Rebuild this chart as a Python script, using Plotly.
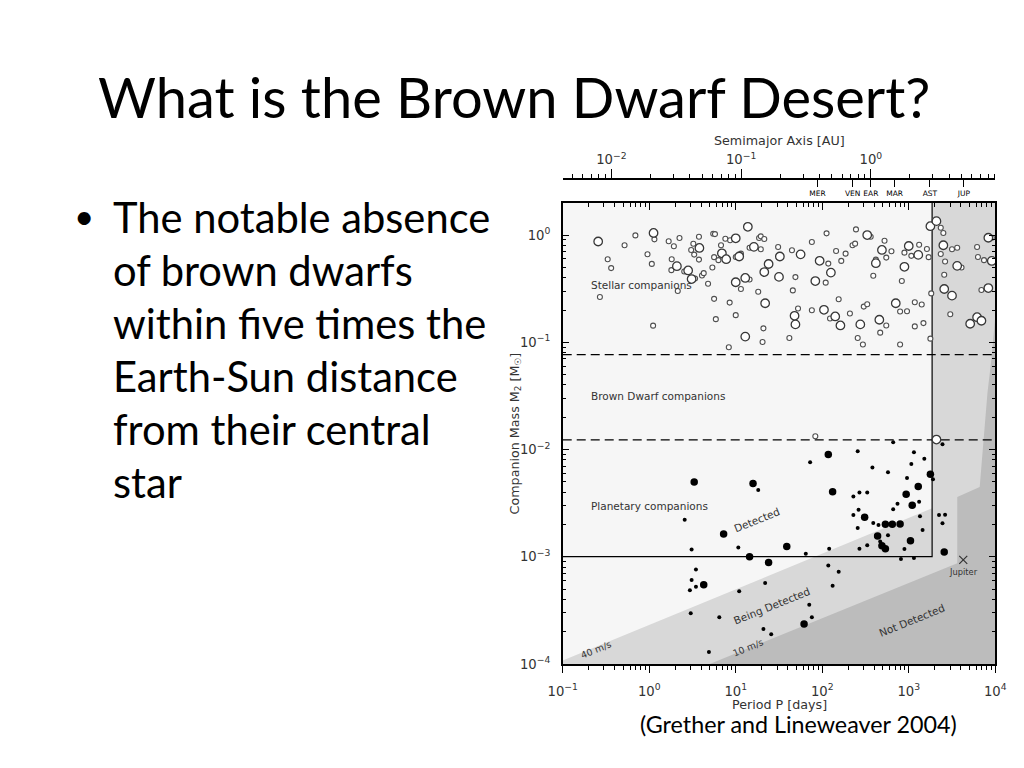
import math
import plotly.graph_objects as go

# page is 1024x768; the figure sits inside the default 8px body margin
FIG_W, FIG_H, OFF = 1008, 752, 8
def px(x):
    return (x - OFF) / FIG_W
def py(y):
    return 1 - (y - OFF) / FIG_H

# ---------------- data: log10 period [days], log10 companion mass [Msun] ----------------
stellar_big_logP = [-0.59, 0.05, 0.32, 0.45, 0.49, 0.58, 0.84, 0.89, 1.00, 1.04, 1.00, 1.11, 1.14,
                    1.21, 1.11, 1.33, 1.38, 1.34, 1.51, 1.50, 1.75, 1.97, 2.10, 2.52, 2.69, 2.62,
                    3.00, 3.11, 2.95, 1.92, 1.68, 1.69, 2.02, 2.15, 2.21, 2.44, 2.66, 2.85, 3.25,
                    3.32, 3.40, 3.56, 3.41, 3.50, 3.92, 3.96, 3.92, 3.71, 3.79, 3.84, 3.32]
stellar_big_logM = [-0.06, 0.02, -0.29, -0.33, -0.41, -0.12, -0.17, -0.225, -0.03, -0.20, -0.44, -0.40, 0.077,
                    -0.11, -0.947, -0.345, -0.27, -0.636, -0.20, -0.39, -0.18, -0.24, -0.35, 0.0, -0.139, -0.262,
                    -0.102, -0.185, -0.296, -0.429, -0.753, -0.833, -0.697, -0.759, -0.843, -0.833, -0.79, -0.636, 0.083,
                    0.13, -0.095, -0.287, -0.503, -0.565, -0.025, -0.241, -0.494, -0.827, -0.766, -0.799, -1.907]

stellar_small_logP = [-0.48, -0.44, -0.57, -0.285, -0.16, -0.02, 0.03, 0.06, 0.045, 0.225, 0.285, 0.35,
                      0.26, 0.256, 0.33, 0.405, 0.53, 0.485, 0.51, 0.52, 0.575, 0.575, 0.61, 0.63,
                      0.68, 0.73, 0.74, 0.76, 0.75, 0.77, 0.75, 0.80, 0.83, 0.88, 0.935, 0.93,
                      0.92, 1.00, 1.06, 0.99, 1.06, 1.16, 1.00, 1.16, 1.26, 1.27, 1.29, 1.33,
                      1.29, 1.32, 1.31, 1.49, 1.62, 1.65, 1.88, 2.05, 2.07, 2.16, 2.22, 2.27,
                      2.35, 2.38, 2.39, 2.56, 2.72, 2.80, 2.62, 2.74, 2.95, 3.03, 3.12, 3.21,
                      3.23, 2.92, 2.59, 1.69, 1.66, 2.04, 2.19, 1.72, 1.88, 2.09, 2.32, 2.48,
                      2.52, 2.41, 2.47, 2.74, 2.67, 2.90, 2.98, 3.07, 3.15, 3.07, 3.17, 2.90,
                      3.37, 3.40, 3.26, 3.25, 3.50, 3.56, 3.42, 3.37, 3.61, 3.41, 3.48, 3.79,
                      3.80, 3.87, 3.96, 3.84, 1.92]
stellar_small_logM = [-0.225, -0.308, -0.577, -0.095, -0.003, -0.179, -0.269, -0.04, -0.845, -0.058, -0.105, -0.028,
                      -0.225, -0.327, -0.521, -0.34, -0.405, -0.139, -0.081, -0.182, -0.229, -0.016, -0.377, -0.355,
                      -0.454, -0.303, 0.012, 0.009, -0.595, -0.784, -0.206, -0.234, -0.095, -0.034, -0.049, -0.63,
                      -1.046, -0.204, -0.173, -0.451, -0.503, -0.414, -0.747, -0.118, -0.528, -0.028, -0.012, -0.037,
                      -0.132, -0.87, -0.997, -0.111, -0.96, -0.142, -0.065, 0.016, -0.266, -0.148, -0.241, -0.173,
                      -0.095, -0.08, 0.053, -0.016, -0.053, -0.151, -0.229, -0.21, -0.164, -0.194, -0.09, -0.13,
                      -0.206, -0.429, -0.38, -0.392, -0.516, -0.444, -0.599, -0.685, -0.701, -0.778, -0.731, -0.667,
                      -0.645, -0.96, -1.021, -0.843, -0.91, -0.713, -0.71, -0.627, -0.648, -0.852, -0.821, -1.021,
                      0.068, 0.019, -0.544, -0.966, -0.132, -0.118, -0.247, -0.176, -0.303, -0.37, -0.738, -0.111,
                      -0.204, -0.234, -0.025, -0.512, -1.877]

planet_big_logP = [0.52, 1.20, 0.86, 1.16, 1.59, 1.38, 2.07, 2.12, 3.25, 3.11, 2.97, 3.04, 2.49,
                   2.73, 2.81, 2.90, 2.64, 2.69, 2.73, 3.02, 3.41, 0.63, 1.79]
planet_big_logM = [-2.303, -2.318, -2.787, -3.0, -2.905, -3.053, -2.046, -2.395, -2.231, -2.345, -2.417, -2.519, -2.632,
                   -2.697, -2.697, -2.694, -2.806, -2.898, -2.926, -2.852, -2.956, -3.262, -3.627]

planet_small_logP = [1.26, 0.41, 0.49, 1.03, 1.86, 2.41, 2.82, 2.58, 2.76, 3.06, 3.18, 3.03, 3.39,
                     2.36, 2.43, 2.52, 2.98, 3.28, 3.12, 2.87, 2.82, 2.36, 2.42, 2.41, 2.59, 2.65,
                     3.13, 3.16, 2.76, 2.67, 2.52, 2.43, 2.08, 1.81, 2.95, 2.91, 3.06, 3.35, 3.42,
                     3.39, 0.54, 0.49, 0.54, 0.47, 1.34, 1.04, 0.48, 0.81, 1.32, 1.41, 0.69, 2.07,
                     2.19, 2.12, 1.85, 1.88]
planet_small_logM = [-2.377, -2.655, -2.932, -2.914, -2.12, -2.016, -1.932, -2.167, -2.213, -2.025, -2.086, -2.136, -1.951,
                     -2.438, -2.401, -2.401, -2.266, -2.278, -2.488, -2.506, -2.558, -2.611, -2.562, -2.731, -2.685, -2.704,
                     -2.623, -2.75, -2.799, -2.858, -2.892, -2.926, -2.926, -2.972, -2.929, -3.021, -3.012, -2.611, -2.608,
                     -2.688, -3.12, -3.216, -3.281, -3.312, -3.244, -3.321, -3.528, -3.565, -3.673, -3.722, -3.889, -3.081,
                     -3.139, -3.271, -3.447, -3.565]

jupiter_logP = [3.63]
jupiter_logM = [-3.03]

# region boundaries (log10 P, log10 M)
survey_logP = 3.27
bd_upper_logM = -1.115
bd_lower_logM = -1.91
planet_floor_logM = -3.0
being_det_logP = [-1.0, -1.0, 3.27, 3.27, 4.0, 4.0]
being_det_logM = [-4.0, -3.969, -2.549, 0.3, 0.3, -4.0]
not_det_logP = [0.70, 3.561, 3.561, 3.82, 3.91, 3.955, 3.99, 4.0, 4.0]
not_det_logM = [-4.0, -3.06, -2.444, -2.35, -1.47, -1.16, -0.85, -0.75, -4.0]

# axes
x_range = [-1, 4]
y_range = [-4, 0.3]
period_ticks = [0.1, 1, 10, 100, 1000, 10000]
period_labels = ["10<sup>−1</sup>", "10<sup>0</sup>", "10<sup>1</sup>", "10<sup>2</sup>", "10<sup>3</sup>", "10<sup>4</sup>"]
mass_ticks = [1e-4, 1e-3, 1e-2, 1e-1, 1]
mass_labels = ["10<sup>−4</sup>", "10<sup>−3</sup>", "10<sup>−2</sup>", "10<sup>−1</sup>", "10<sup>0</sup>"]
au_ticks = [0.01, 0.1, 1]
au_labels = ["10<sup>−2</sup>", "10<sup>−1</sup>", "10<sup>0</sup>"]
planet_au = [0.387, 0.723, 1.0, 1.524, 2.85, 5.2]
planet_names = ["MER", "VEN", "EAR", "MAR", "AST", "JUP"]

def p10(v):
    return [10 ** a for a in v]

def minor(lo, hi, vmin, vmax):
    return [k * 10 ** d for d in range(lo, hi) for k in range(2, 10) if vmin <= k * 10 ** d <= vmax]

LOG_YEAR = math.log10(365.25)
au_range = [(2 / 3) * (x_range[0] - LOG_YEAR), (2 / 3) * (x_range[1] - LOG_YEAR)]

TXT = "#333333"
FONT = "DejaVu Sans"
SLIDE_FONT = "Lato"

fig = go.Figure()

# shaded detection regions
fig.add_trace(go.Scatter(x=p10(being_det_logP), y=p10(being_det_logM), mode="lines", fill="toself",
                         fillcolor="#d8d8d8", line=dict(width=0), hoverinfo="skip"))
fig.add_trace(go.Scatter(x=p10(not_det_logP), y=p10(not_det_logM), mode="lines", fill="toself",
                         fillcolor="#bcbcbc", line=dict(width=0), hoverinfo="skip"))

# dashed brown-dwarf boundaries
for b in [bd_upper_logM, bd_lower_logM]:
    fig.add_trace(go.Scatter(x=[10 ** x_range[0], 10 ** x_range[1]], y=[10 ** b, 10 ** b], mode="lines",
                             line=dict(color="black", width=1.1, dash="9px,5px"), hoverinfo="skip"))
# solid detected box
fig.add_trace(go.Scatter(x=[10 ** x_range[0], 10 ** survey_logP, 10 ** survey_logP],
                         y=[10 ** planet_floor_logM, 10 ** planet_floor_logM, 10 ** y_range[1]],
                         mode="lines", line=dict(color="black", width=1.2), hoverinfo="skip"))

# companions
fig.add_trace(go.Scatter(x=p10(stellar_small_logP), y=p10(stellar_small_logM), mode="markers",
                         marker=dict(symbol="circle", size=5, color="white", line=dict(color="#505050", width=1.1))))
fig.add_trace(go.Scatter(x=p10(stellar_big_logP), y=p10(stellar_big_logM), mode="markers",
                         marker=dict(symbol="circle", size=8.5, color="white", line=dict(color="#383838", width=1.3))))
fig.add_trace(go.Scatter(x=p10(planet_small_logP), y=p10(planet_small_logM), mode="markers",
                         marker=dict(symbol="circle", size=4, color="black", line=dict(width=0))))
fig.add_trace(go.Scatter(x=p10(planet_big_logP), y=p10(planet_big_logM), mode="markers",
                         marker=dict(symbol="circle", size=7.5, color="black", line=dict(width=0))))
fig.add_trace(go.Scatter(x=p10(jupiter_logP), y=p10(jupiter_logM), mode="markers",
                         marker=dict(symbol="x-thin", size=8, line=dict(color="#333333", width=1.2))))

# dummy traces so the overlaying axes are drawn
for ax in ["x2", "x3", "x4"]:
    fig.add_trace(go.Scatter(x=[1], y=[1], xaxis=ax, yaxis="y", mode="markers",
                             marker=dict(opacity=0), hoverinfo="skip"))

dom = [px(562), px(1006)]
tickfont = dict(family=FONT, size=13.2, color=TXT)
common = dict(showgrid=False, zeroline=False, tickcolor="black", tickwidth=1, ticklabeloverflow="allow")

fig.update_layout(
    width=FIG_W, height=FIG_H, margin=dict(l=0, r=0, t=0, b=0),
    paper_bgcolor="white", plot_bgcolor="#f6f6f6", showlegend=False,
    xaxis=dict(type="log", range=x_range, domain=dom, anchor="y", showline=True, linecolor="black", linewidth=1.5,
               ticks="outside", ticklen=7, tickvals=period_ticks, ticktext=period_labels, tickfont=tickfont,
               minor=dict(tickvals=minor(-1, 4, 0.1, 1e4), ticks="outside", ticklen=4, tickcolor="black"),
               ticklabelstandoff=7, **common),
    xaxis4=dict(type="log", range=x_range, domain=dom, anchor="y", overlaying="x", side="top", showline=True,
                linecolor="black", linewidth=1.5, ticks="inside", ticklen=7, tickvals=period_ticks,
                showticklabels=False,
                minor=dict(tickvals=minor(-1, 4, 0.1, 1e4), ticks="inside", ticklen=4, tickcolor="black"), **common),
    yaxis=dict(type="log", range=y_range, domain=[py(671), py(205)], anchor="x", showline=True, linecolor="black",
               linewidth=1.5, mirror="ticks", ticks="inside", ticklen=7, tickvals=mass_ticks, ticktext=mass_labels,
               tickfont=tickfont, ticklabelstandoff=8,
               minor=dict(tickvals=minor(-4, 1, 1e-4, 2.0), ticks="inside", ticklen=4, tickcolor="black"), **common),
    xaxis2=dict(type="log", range=au_range, domain=dom, anchor="free", position=py(181), overlaying="x",
                side="top", showline=True, linecolor="black", linewidth=1.5, ticks="outside", ticklen=9,
                tickvals=au_ticks, ticktext=au_labels, tickfont=tickfont,
                minor=dict(tickvals=minor(-3, 1, 10 ** au_range[0], 10 ** au_range[1]), ticks="outside",
                           ticklen=4, tickcolor="black"), **common),
    xaxis3=dict(type="log", range=au_range, domain=dom, anchor="free", position=py(181), overlaying="x",
                side="bottom", showline=False, ticks="outside", ticklen=7, tickvals=planet_au,
                ticktext=planet_names, tickfont=dict(family=FONT, size=7.5, color="black"), **common),
)

ann = []
def text(x, y, s, size=10.5, angle=0, xanchor="center", family=FONT, color=TXT):
    ann.append(dict(x=px(x), y=py(y), xref="paper", yref="paper", text=s, showarrow=False,
                    textangle=angle, xanchor=xanchor, yanchor="middle", align=xanchor,
                    font=dict(family=family, size=size, color=color)))

# chart labels
text(589, 288, "Stellar companions", xanchor="left")
text(589, 400, "Brown Dwarf companions", xanchor="left")
text(589, 511, "Planetary companions", xanchor="left")
text(761, 526, "Detected", angle=-22)
text(776, 612, "Being Detected", angle=-22)
text(921, 627, "Not Detected", angle=-22)
text(596, 656, "40 m/s", size=9.3, angle=-22)
text(752, 654, "10 m/s", size=9.3, angle=-22)
text(973, 578, "Jupiter", size=8.3)
text(785, 712, "Period P [days]", size=12.7)
text(785, 142, "Semimajor Axis [AU]", size=12.7)
text(513, 438, "Companion Mass M<sub>2</sub> [M<sub>☉</sub>]", size=12.7, angle=-90)

# slide text
text(512, 97, "What is the Brown Dwarf Desert?", size=56, family=SLIDE_FONT, color="black")
text(58, 217, "•", size=35, xanchor="left", family=SLIDE_FONT, color="black")
bullet_lines = ["The notable absence", "of brown dwarfs", "within five times the",
                "Earth-Sun distance", "from their central", "star"]
for i, line in enumerate(bullet_lines):
    text(98, 219 + 53.6 * i, line, size=41.7, xanchor="left", family=SLIDE_FONT, color="black")
text(804, 732, "(Grether and Lineweaver 2004)", size=23.3, family=SLIDE_FONT, color="black")

fig.update_layout(annotations=ann)

fig.write_html("out.html", config={"displayModeBar": False})
